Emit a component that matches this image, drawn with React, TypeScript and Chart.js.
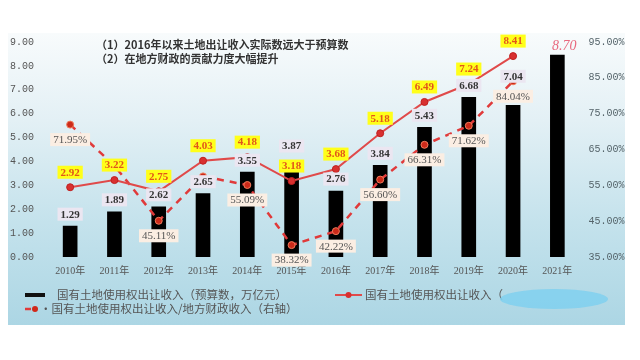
import React, { useEffect, useRef } from 'react';
import { Chart, registerables } from 'chart.js';

Chart.register(...registerables);

const years = ['2010年', '2011年', '2012年', '2013年', '2014年', '2015年', '2016年', '2017年', '2018年', '2019年', '2020年', '2021年'];
// bar heights as drawn in the picture
const budget = [1.29, 1.89, 2.1, 2.65, 3.55, 3.87, 2.76, 3.84, 5.43, 6.68, 6.35, 8.45];
// value labels printed over the bars
const budgetLabels = ['1.29', '1.89', '2.62', '2.65', '3.55', '3.87', '2.76', '3.84', '5.43', '6.68', '7.04', null];
const actual = [2.92, 3.22, 2.75, 4.03, 4.18, 3.18, 3.68, 5.18, 6.49, 7.24, 8.41, null];
const ratio = [71.95, 60.5, 45.11, 57.5, 55.09, 38.32, 42.22, 56.6, 66.31, 71.62, 84.04, null];
const ratioLabeled = [true, false, true, false, true, true, true, true, true, true, true, false];
const handNote = '8.70';
const notes = ['（1）2016年以来土地出让收入实际数远大于预算数', '（2）在地方财政的贡献力度大幅提升'];
const legendBudget = '国有土地使用权出让收入（预算数，万亿元）';
const legendActual = '国有土地使用权出让收入（';
const legendRatio = '·国有土地使用权出让收入/地方财政收入（右轴）';

const CJK = '"Noto Sans CJK SC", "Noto Sans", sans-serif';
const NUM = '"Liberation Serif", "DejaVu Serif", serif';

function labelBox(ctx: CanvasRenderingContext2D, text: string, cx: number, cy: number, font: string, color: string, bg: string) {
  ctx.font = font;
  const w = ctx.measureText(text).width + 6;
  const h = 13;
  ctx.fillStyle = bg;
  ctx.fillRect(cx - w / 2, cy - h / 2, w, h);
  ctx.fillStyle = color;
  ctx.textAlign = 'center';
  ctx.textBaseline = 'middle';
  ctx.fillText(text, cx, cy + 0.5);
}

const bgPlugin = {
  id: 'bgPlugin',
  beforeDraw(chart: any) {
    const ctx = chart.ctx as CanvasRenderingContext2D;
    ctx.save();
    ctx.fillStyle = '#ffffff';
    ctx.fillRect(0, 0, chart.width, chart.height);
    const g = ctx.createLinearGradient(0, 33, 0, 325);
    g.addColorStop(0, '#f8fbfc');
    g.addColorStop(0.3, '#e3f0f5');
    g.addColorStop(0.65, '#c4e2ec');
    g.addColorStop(1, '#acd6e4');
    ctx.fillStyle = g;
    ctx.fillRect(8, 33, 617, 292);
    ctx.restore();
  },
};

const labelPlugin = {
  id: 'labelPlugin',
  afterDatasetsDraw(chart: any) {
    const ctx = chart.ctx as CanvasRenderingContext2D;
    ctx.save();
    const barMeta = chart.getDatasetMeta(2);
    const actMeta = chart.getDatasetMeta(0);
    const ratMeta = chart.getDatasetMeta(1);
    const lineLabelY = actual.map((v, i) => (v == null ? null : actMeta.data[i].y - 15));
    const ratioLabelY = ratio.map((v, i) => (v == null || !ratioLabeled[i] ? null : ratMeta.data[i].y + 15));

    budget.forEach((v, i) => {
      const el = barMeta.data[i];
      const txt = budgetLabels[i];
      if (txt) {
        let y = el.y - 12;
        for (const other of [ratioLabelY[i], lineLabelY[i]]) {
          if (other != null && Math.abs(other - y) < 15) y = other - 20;
        }
        labelBox(ctx, txt, el.x, y, 'bold 11px ' + NUM, '#333333', '#ebe6f1');
      } else {
        ctx.font = 'italic 14px "Liberation Serif", serif';
        ctx.fillStyle = '#e8687e';
        ctx.textAlign = 'center';
        ctx.textBaseline = 'middle';
        ctx.fillText(handNote, el.x + 7, el.y - 9);
      }
    });
    ratio.forEach((v, i) => {
      const y = ratioLabelY[i];
      if (v == null || y == null) return;
      labelBox(ctx, v.toFixed(2) + '%', ratMeta.data[i].x, y, '11px ' + NUM, '#555555', '#fbeee3');
    });
    actual.forEach((v, i) => {
      const y = lineLabelY[i];
      if (v == null || y == null) return;
      labelBox(ctx, v.toFixed(2), actMeta.data[i].x, y, 'bold 11px ' + NUM, '#e2561a', '#ffff1a');
    });
    ctx.restore();
  },
  afterDraw(chart: any) {
    const ctx = chart.ctx as CanvasRenderingContext2D;
    ctx.save();
    ctx.textAlign = 'left';
    ctx.textBaseline = 'middle';
    ctx.font = 'bold 11px ' + CJK;
    ctx.fillStyle = '#333333';
    ctx.fillText(notes[0], 96, 45);
    ctx.fillText(notes[1], 96, 59);

    // legend row 1
    ctx.fillStyle = '#111111';
    ctx.fillRect(25, 293, 20, 4);
    ctx.font = '11.5px ' + CJK;
    ctx.fillStyle = '#555555';
    ctx.fillText(legendBudget, 57, 295);

    ctx.strokeStyle = '#e04a4a';
    ctx.lineWidth = 2;
    ctx.beginPath();
    ctx.moveTo(335, 295);
    ctx.lineTo(362, 295);
    ctx.stroke();
    ctx.fillStyle = '#d83030';
    ctx.beginPath();
    ctx.arc(348.5, 295, 3, 0, Math.PI * 2);
    ctx.fill();
    ctx.fillStyle = '#555555';
    ctx.fillText(legendActual, 365, 295);

    // blurred blob
    ctx.fillStyle = 'rgba(128, 208, 238, 0.85)';
    ctx.beginPath();
    ctx.ellipse(554, 299, 54, 10, 0, 0, Math.PI * 2);
    ctx.fill();

    // legend row 2
    ctx.strokeStyle = '#e03a3a';
    ctx.lineWidth = 2.5;
    ctx.beginPath();
    ctx.moveTo(25, 309);
    ctx.lineTo(31, 309);
    ctx.stroke();
    ctx.fillStyle = '#d0281a';
    ctx.beginPath();
    ctx.arc(35, 309, 3, 0, Math.PI * 2);
    ctx.fill();
    ctx.fillStyle = '#555555';
    ctx.fillText(legendRatio, 40, 309);
    ctx.restore();
  },
};

export default function App() {
  const ref = useRef<HTMLCanvasElement | null>(null);
  useEffect(() => {
    if (!ref.current) return;
    const chart = new Chart(ref.current, {
      type: 'bar',
      data: {
        labels: years,
        datasets: [
          {
            type: 'line',
            label: legendActual,
            data: actual as any,
            yAxisID: 'y',
            borderColor: '#e04a4a',
            borderWidth: 2,
            pointRadius: 3.5,
            pointBackgroundColor: '#d83030',
            pointBorderColor: '#c02020',
            pointBorderWidth: 1,
            tension: 0,
            order: 1,
          } as any,
          {
            type: 'line',
            label: legendRatio,
            data: ratio as any,
            yAxisID: 'y1',
            borderColor: '#e03a3a',
            borderWidth: 2.5,
            borderDash: [7, 6],
            pointRadius: 3.5,
            pointBackgroundColor: '#cc2a1a',
            pointBorderColor: '#f07a5a',
            pointBorderWidth: 1,
            tension: 0,
            order: 2,
          } as any,
          {
            type: 'bar',
            label: legendBudget,
            data: budget,
            yAxisID: 'y',
            backgroundColor: '#000000',
            barThickness: 14,
            order: 3,
          },
        ],
      },
      options: {
        responsive: false,
        animation: false,
        layout: { padding: { left: 8, right: 10.5, top: 42, bottom: 78 } },
        plugins: {
          legend: { display: false },
          tooltip: { enabled: false },
          title: { display: false },
        },
        scales: {
          x: {
            grid: { display: false, drawTicks: false },
            border: { display: false },
            ticks: { color: '#555555', font: { family: NUM + ', ' + CJK, size: 10 }, padding: 8, maxRotation: 0 },
            afterFit(scale: any) {
              scale.height = 25;
            },
          },
          y: {
            position: 'left',
            min: 0,
            max: 9,
            grid: { display: false, drawTicks: false },
            border: { display: false },
            ticks: {
              stepSize: 1,
              color: '#555555',
              padding: 14,
              font: { family: '"Liberation Mono", monospace', size: 10 },
              callback: (v: any) => Number(v).toFixed(2),
            },
            afterFit(scale: any) {
              scale.width = 40;
            },
          },
          y1: {
            position: 'right',
            min: 35,
            max: 95,
            grid: { display: false, drawTicks: false },
            border: { display: false },
            ticks: {
              stepSize: 10,
              color: '#55646a',
              padding: 9,
              font: { family: '"Liberation Mono", monospace', size: 10 },
              callback: (v: any) => Number(v).toFixed(2) + '%',
            },
            afterFit(scale: any) {
              scale.width = 50;
            },
          },
        },
      },
      plugins: [bgPlugin, labelPlugin],
    });
    return () => chart.destroy();
  }, []);
  return (
    <div style={{ position: 'fixed', left: 0, top: 0, width: 640, height: 360 }}>
      <canvas ref={ref} width={640} height={360} />
    </div>
  );
}
